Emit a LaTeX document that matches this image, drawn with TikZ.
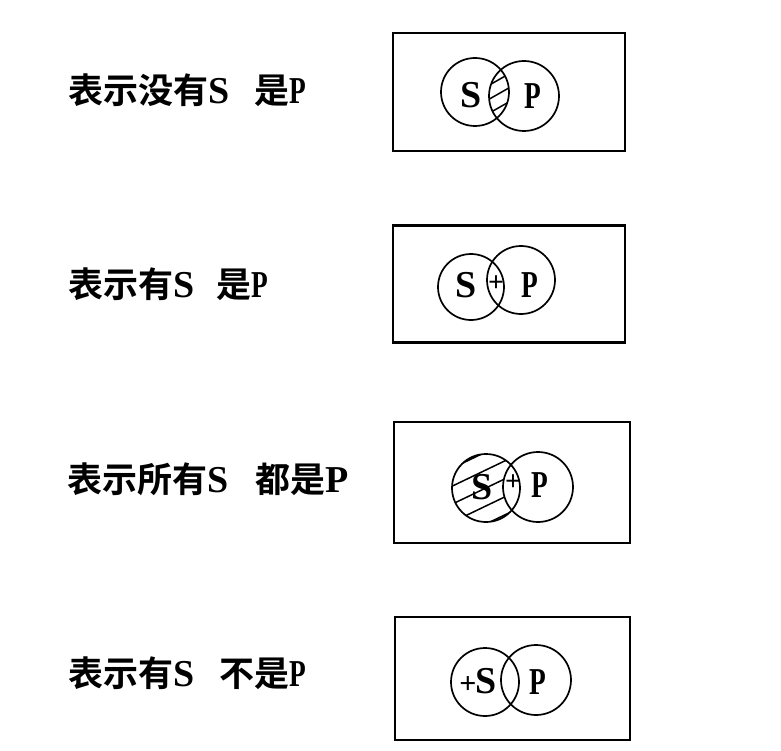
\documentclass[tikz,border=0pt]{standalone}
\usepackage{fontspec}
\setmainfont{Liberation Serif}
\newfontfamily\cjk[BoldFont={* Bold}]{Noto Sans CJK SC}
\newcommand{\zh}[1]{{\cjk\bfseries\fontsize{35}{38}\selectfont #1}}
\newcommand{\narP}{\scalebox{0.72}[1]{P}}
\begin{document}
\begin{tikzpicture}[x=1pt,y=-1pt,
  frame/.style={draw,line width=2.2pt,rectangle,inner sep=0pt},
  vcirc/.style={draw,line width=1.7pt,circle,inner sep=0pt,minimum size=68pt},
  lbl/.style={anchor=west,inner sep=0pt,font=\fontsize{38}{40}\selectfont\bfseries},
  let/.style={inner sep=0pt,font=\fontsize{38}{40}\selectfont\bfseries},
  pl/.style={inner sep=0pt,font=\fontsize{28}{30}\selectfont\bfseries},
  hatch/.style={line width=1.5pt}]
\useasboundingbox (0,0) rectangle (781,751);
\fill[white] (0,0) rectangle (781,751);

% labels
\node[lbl] (t1) at (68,90) {\zh{表示没有}S\hspace{25pt}\zh{是}\narP};
\node[lbl] (t2) at (68,284) {\zh{表示有}S\hspace{22pt}\zh{是}\narP};
\node[lbl] (t3) at (67,479) {\zh{表示所有}S\hspace{27pt}\zh{都是}P};
\node[lbl] (t4) at (68,673) {\zh{表示有}S\hspace{25pt}\zh{不是}\narP};

% frames
\node[frame,minimum width=232pt,minimum height=118pt] (b1) at (509,92) {};
\node[frame,minimum width=232pt,minimum height=117pt] (b2) at (509,284) {};
\node[frame,minimum width=236pt,minimum height=121pt] (b3) at (512,482.5) {};
\node[frame,minimum width=235pt,minimum height=123pt] (b4) at (512.5,678.5) {};

% diagram 1: no S is P (lens hatched)
\begin{scope}
  \clip (475,92) circle (34);
  \clip (524,96) circle (35);
  \foreach \k in {-30,-16,-2,12,26} {
    \draw[hatch] (470,112+\k) -- (530,78+\k);
  }
\end{scope}
\node[vcirc] (s1) at (475,92) {};
\node[vcirc,minimum size=70pt] (p1) at (524,96) {};
\node[let] (ls1) at (471,95) {S};
\node[let] (lp1) at (533,96) {\narP};

% diagram 2: some S is P
\node[vcirc,minimum size=66pt] (s2) at (471,287) {};
\node[vcirc] (p2) at (521,280) {};
\node[let] (ls2) at (466,285) {S};
\node[let] (lp2) at (530,285) {\narP};
\node[pl] (x2) at (496,284) {+};

% diagram 3: all S is P (S outside P hatched)
\begin{scope}[even odd rule]
  \clip (486,488) circle (34);
  \clip (400,430) rectangle (640,540) (538,487) circle (35);
  \foreach \k in {-44,-26,-8,10,28,46} {
    \draw[hatch] (440,500+\k) -- (540,452+\k);
  }
\end{scope}
\node[vcirc] (s3) at (486,488) {};
\node[vcirc,minimum size=70pt] (p3) at (538,487) {};
\node[let] (ls3) at (482,487) {S};
\node[pl] (x3) at (513,483) {+};
\node[let] (lp3) at (540,485) {\narP};

% diagram 4: some S is not P
\node[vcirc,minimum size=68pt] (s4) at (485,682) {};
\node[vcirc,minimum size=70pt] (p4) at (536,680) {};
\node[let] (ls4) at (478,681) {\fontsize{30}{32}\selectfont +\hspace{-1pt}\fontsize{38}{40}\selectfont S};
\node[let] (lp4) at (538,682) {\narP};
\end{tikzpicture}
\end{document}
